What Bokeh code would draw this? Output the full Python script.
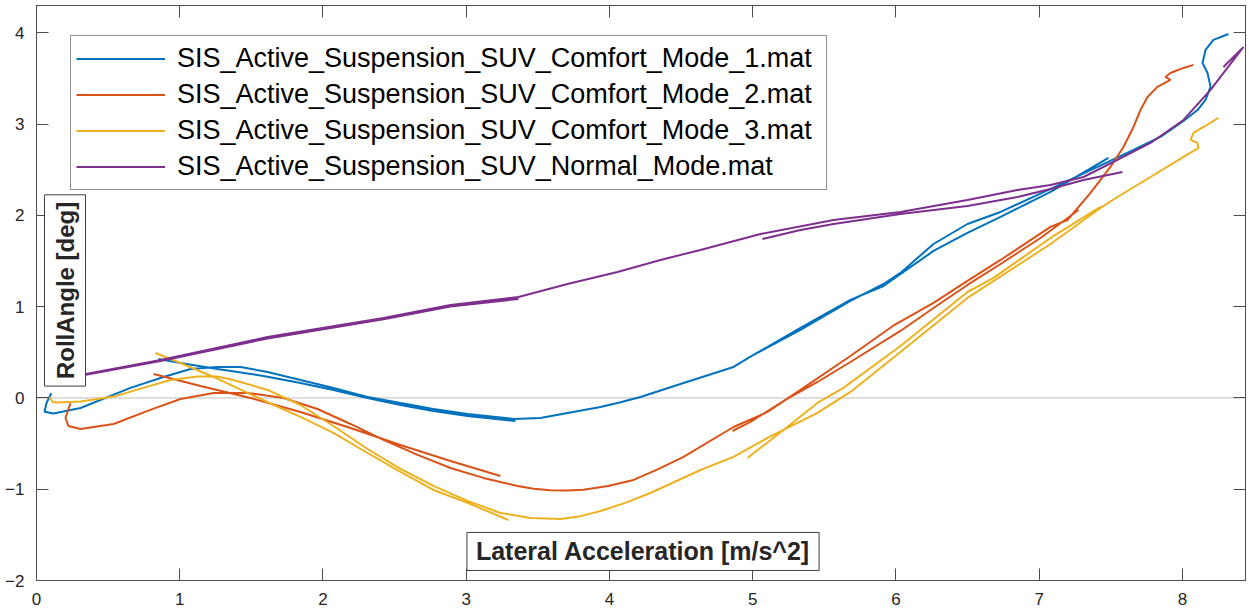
import numpy as np
from bokeh.plotting import figure
from bokeh.models import (Range1d, LinearAxis, SingleIntervalTicker, Span,
                          Label, Legend, LegendItem)
from bokeh.embed import file_html
from bokeh.resources import INLINE

# ---------------------------------------------------------------------------
# Roll angle [deg] versus lateral acceleration [m/s^2] for four runs.
# Each run is made of a few traces (up-sweep / down-sweep pieces).
# ---------------------------------------------------------------------------
series_names = [
    "SIS_Active_Suspension_SUV_Comfort_Mode_1.mat",
    "SIS_Active_Suspension_SUV_Comfort_Mode_2.mat",
    "SIS_Active_Suspension_SUV_Comfort_Mode_3.mat",
    "SIS_Active_Suspension_SUV_Normal_Mode.mat",
]

# Comfort mode 1
comfort1_main_x = [0.103, 0.070, 0.056, 0.119, 0.307, 0.656, 0.887, 1.075, 1.263, 1.424,
                   1.613, 1.843, 2.073, 2.311, 2.541, 2.771, 3.009, 3.330, 3.518, 3.707,
                   3.937, 4.070, 4.216, 4.517, 4.866, 5.005, 5.333, 5.682, 5.913, 6.031,
                   6.262, 6.499, 6.730, 7.079, 7.407, 7.658, 7.846, 8.007, 8.105, 8.161,
                   8.196, 8.175, 8.140, 8.161, 8.216, 8.321]
comfort1_main_y = [0.051, -0.055, -0.150, -0.170, -0.110, 0.110, 0.230, 0.318, 0.340, 0.340,
                   0.285, 0.197, 0.110, 0.011, -0.055, -0.120, -0.175, -0.230, -0.219, -0.164,
                   -0.099, -0.050, 0.011, 0.164, 0.340, 0.471, 0.745, 1.063, 1.249, 1.370,
                   1.687, 1.906, 2.038, 2.290, 2.531, 2.717, 2.860, 3.035, 3.155, 3.265,
                   3.408, 3.561, 3.670, 3.813, 3.923, 3.988]
comfort1_low_x = [0.852, 1.005, 1.263, 1.585, 1.843, 2.073, 2.311, 2.541, 2.771, 3.009, 3.344]
comfort1_low_y = [0.427, 0.383, 0.318, 0.241, 0.164, 0.088, 0.000, -0.077, -0.142, -0.197, -0.252]
comfort1_high_x = [5.005, 5.333, 5.682, 5.913, 6.262, 6.499, 6.730, 7.079, 7.483]
comfort1_high_y = [0.471, 0.767, 1.074, 1.227, 1.611, 1.808, 1.983, 2.257, 2.630]

# Comfort mode 2
comfort2_main_x = [0.237, 0.202, 0.223, 0.307, 0.538, 0.775, 1.005, 1.236, 1.473, 1.724,
                   1.962, 2.192, 2.422, 2.660, 2.890, 3.120, 3.358, 3.470, 3.588, 3.700,
                   3.818, 3.990, 4.168, 4.340, 4.517, 4.866, 5.103, 5.333, 5.682, 5.978,
                   6.262, 6.499, 6.730, 7.079, 7.197, 7.358, 7.497, 7.588, 7.658, 7.707,
                   7.756, 7.825, 7.916, 7.881, 7.916, 8.007, 8.077]
comfort2_main_y = [-0.058, -0.219, -0.307, -0.340, -0.285, -0.142, -0.011, 0.055, 0.055, 0.000,
                   -0.121, -0.285, -0.460, -0.624, -0.767, -0.876, -0.964, -0.995, -1.010, -1.015,
                   -1.005, -0.965, -0.898, -0.780, -0.646, -0.318, -0.153, 0.088, 0.460, 0.789,
                   1.041, 1.282, 1.512, 1.874, 1.950, 2.246, 2.531, 2.750, 2.969, 3.155,
                   3.298, 3.408, 3.485, 3.517, 3.561, 3.616, 3.649]
comfort2_low_x = [0.817, 1.145, 1.494, 1.843, 2.192, 2.541, 2.890, 3.239]
comfort2_low_y = [0.263, 0.131, 0.000, -0.153, -0.329, -0.515, -0.690, -0.855]
comfort2_high_x = [4.859, 4.984, 5.215, 5.452, 5.682, 6.031, 6.262, 6.499, 6.730, 7.009, 7.274]
comfort2_high_y = [-0.362, -0.263, -0.033, 0.175, 0.394, 0.734, 0.986, 1.238, 1.468, 1.753, 2.060]

# Comfort mode 3
comfort3_main_x = [0.091, 0.112, 0.144, 0.307, 0.538, 0.775, 0.935, 1.124, 1.263, 1.375,
                   1.613, 1.843, 2.073, 2.311, 2.541, 2.771, 3.009, 3.239, 3.449, 3.658,
                   3.800, 3.937, 4.110, 4.286, 4.635, 4.866, 5.103, 5.452, 5.682, 6.031,
                   6.499, 7.079, 7.428, 7.546, 7.777, 8.007, 8.112, 8.105, 8.056, 8.077,
                   8.147, 8.251]
comfort3_main_y = [0.011, -0.044, -0.051, -0.040, 0.015, 0.124, 0.197, 0.234, 0.234, 0.197,
                   0.088, -0.077, -0.307, -0.559, -0.778, -0.964, -1.128, -1.260, -1.315, -1.326,
                   -1.295, -1.238, -1.150, -1.041, -0.789, -0.646, -0.438, -0.164, 0.066, 0.504,
                   1.096, 1.687, 2.082, 2.202, 2.421, 2.641, 2.739, 2.794, 2.827, 2.904,
                   2.969, 3.068]
comfort3_low_x = [0.831, 1.005, 1.236, 1.473, 1.703, 1.843, 2.073, 2.311, 2.541, 2.771, 3.009, 3.295]
comfort3_low_y = [0.493, 0.383, 0.230, 0.055, -0.110, -0.208, -0.383, -0.603, -0.811, -1.008, -1.150, -1.337]
comfort3_high_x = [4.963, 5.215, 5.452, 5.633, 6.031, 6.499, 6.681, 7.079, 7.428]
comfort3_high_y = [-0.657, -0.351, -0.055, 0.110, 0.570, 1.161, 1.315, 1.753, 2.093]

# Normal mode
normal_up_x = [0.070, 0.307, 0.866, 1.613, 2.422, 2.890, 3.365]
normal_up_y = [0.186, 0.252, 0.416, 0.668, 0.877, 1.019, 1.107]
normal_back_x = [0.070, 0.866, 1.613, 2.422, 2.890, 3.365]
normal_back_y = [0.175, 0.405, 0.652, 0.862, 1.002, 1.085]
normal_main_x = [3.365, 3.707, 4.056, 4.356, 4.635, 5.054, 5.564, 6.031, 6.499, 6.848,
                 7.079, 7.309, 7.546, 7.777, 8.007, 8.196, 8.426]
normal_main_y = [1.107, 1.249, 1.381, 1.512, 1.622, 1.797, 1.950, 2.038, 2.169, 2.279,
                 2.334, 2.421, 2.608, 2.794, 3.046, 3.375, 3.846]
normal_high_x = [5.068, 5.333, 5.564, 6.031, 6.499, 6.848, 7.079, 7.309, 7.581]
normal_high_y = [1.742, 1.841, 1.906, 2.016, 2.104, 2.202, 2.290, 2.389, 2.476]
normal_tip_x = [8.286, 8.412]
normal_tip_y = [3.626, 3.824]

colors = ["#0072BD", "#D95319", "#EDB120", "#7E2F8E"]
AXIS = "#4d4d4d"
FONT = "Liberation Sans"


def join(*segments):
    """Concatenate (x, y) pieces into one polyline, NaN-separated."""
    xs, ys = [], []
    for i, (sx, sy) in enumerate(segments):
        if i:
            xs.append(np.nan)
            ys.append(np.nan)
        xs.extend(sx)
        ys.extend(sy)
    return xs, ys


runs = [
    join((comfort1_main_x, comfort1_main_y), (comfort1_low_x, comfort1_low_y),
         (comfort1_high_x, comfort1_high_y)),
    join((comfort2_main_x, comfort2_main_y), (comfort2_low_x, comfort2_low_y),
         (comfort2_high_x, comfort2_high_y)),
    join((comfort3_main_x, comfort3_main_y), (comfort3_low_x, comfort3_low_y),
         (comfort3_high_x, comfort3_high_y)),
    join((normal_up_x, normal_up_y), (normal_back_x, normal_back_y),
         (normal_main_x, normal_main_y), (normal_high_x, normal_high_y),
         (normal_tip_x, normal_tip_y)),
]

p = figure(width=1249, height=611,
           x_range=Range1d(0, 8.44), y_range=Range1d(-2, 4.3),
           output_backend="svg", toolbar_location=None,
           min_border_left=36, min_border_right=4,
           min_border_top=5, min_border_bottom=31,
           background_fill_color="white", border_fill_color="white")
p.grid.visible = False
p.outline_line_color = AXIS
p.outline_line_width = 1

for ax in (p.xaxis[0], p.yaxis[0]):
    ax.ticker = SingleIntervalTicker(interval=1)
    ax.major_tick_in = 12
    ax.major_tick_out = 0
    ax.minor_tick_line_color = None
    ax.axis_line_color = AXIS
    ax.major_tick_line_color = AXIS
    ax.major_label_text_font = FONT
    ax.major_label_text_font_size = "17px"
    ax.major_label_text_color = "#262626"
p.xaxis[0].major_label_standoff = 8
p.yaxis[0].major_label_standoff = 8

# tick marks (no labels) on the top and right edges of the box
for side in ("above", "right"):
    extra = LinearAxis(ticker=SingleIntervalTicker(interval=1),
                       major_tick_in=12, major_tick_out=0,
                       minor_tick_line_color=None,
                       major_label_text_color=None,
                       major_label_text_font_size="1px",
                       major_label_standoff=0,
                       axis_line_color=AXIS, major_tick_line_color=AXIS)
    p.add_layout(extra, side)

zero = Span(location=0, dimension="width", line_color="#bfbfbf", line_width=1,
            level="underlay")
p.add_layout(zero)

renderers = []
for (xs, ys), c in zip(runs, colors):
    r = p.line(xs, ys, line_color=c, line_width=2)
    renderers.append(r)

legend = Legend(items=[LegendItem(label=n, renderers=[r])
                       for n, r in zip(series_names, renderers)],
                location=(34, 390), padding=5, spacing=1, margin=0,
                glyph_width=89, glyph_height=35, label_height=35,
                label_standoff=12, label_width=644,
                label_text_font=FONT, label_text_font_size="27px",
                label_text_color="black",
                border_line_color="#262626", border_line_width=1,
                background_fill_color="white", background_fill_alpha=1)
p.add_layout(legend)

xlab = Label(x=4.234, y=-1.682, text="Lateral Acceleration [m/s^2]",
             text_align="center", text_baseline="middle",
             text_font=FONT, text_font_style="bold", text_font_size="25px",
             text_color="#262626", background_fill_color="white",
             border_line_color="#404040", border_line_width=1,
             padding=dict(left=9, right=9, top=5, bottom=5))
ylab = Label(x=0.199, y=1.178, text="RollAngle [deg]", angle=np.pi / 2,
             text_align="center", text_baseline="middle",
             text_font=FONT, text_font_style="bold", text_font_size="24px",
             text_color="#262626", background_fill_color="white",
             border_line_color="#404040", border_line_width=1, padding=7)
p.add_layout(xlab)
p.add_layout(ylab)

open("out.html", "w").write(file_html(p, INLINE))
